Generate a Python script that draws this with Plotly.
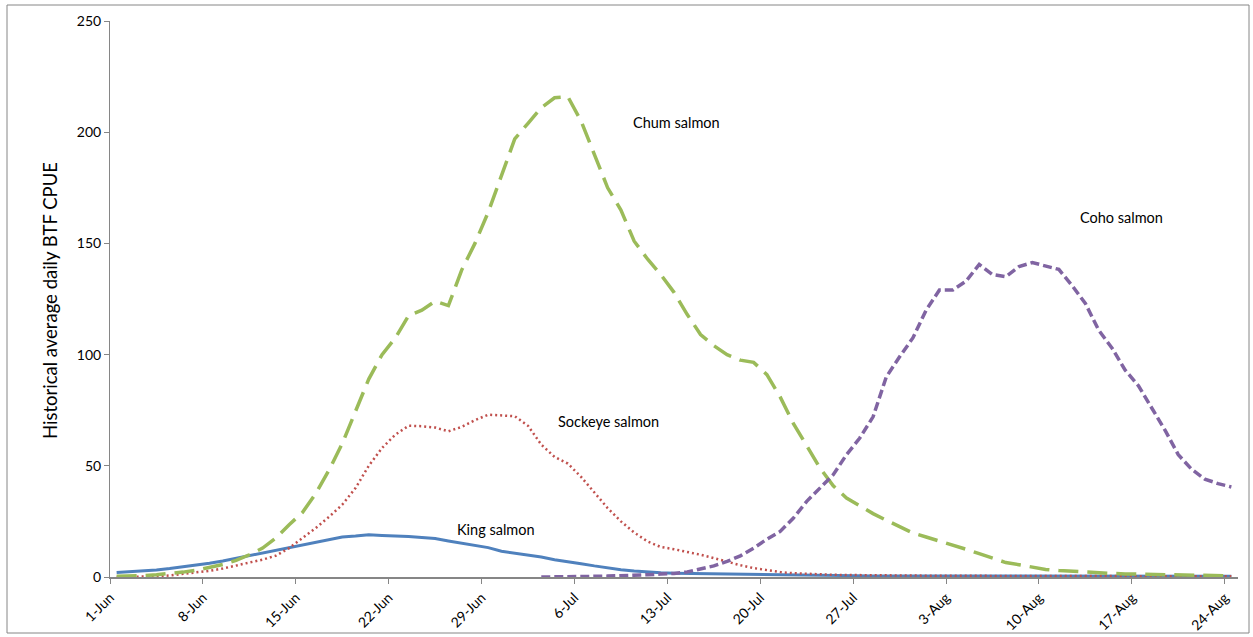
import plotly.graph_objects as go

# Day index 0 = 1-Jun ... 84 = 24-Aug
tick_labels = ["1-Jun", "8-Jun", "15-Jun", "22-Jun", "29-Jun", "6-Jul", "13-Jul",
               "20-Jul", "27-Jul", "3-Aug", "10-Aug", "17-Aug", "24-Aug"]
days = list(range(85))

king = [2.0, 2.3, 2.7, 3.2, 3.8, 4.5, 5.3, 6.2, 7.2, 8.4, 9.6, 10.8, 12.0, 13.3, 14.6,
        15.9, 17.0, 18.0, 18.4, 19.0, 18.7, 18.6, 18.2, 17.8, 17.3, 16.2, 15.2, 14.4, 13.2,
        11.6, 10.8, 10.0, 9.0, 7.8, 7.0, 6.0, 5.0, 4.1, 3.3, 2.7, 2.2, 1.9, 1.7, 1.6, 1.5,
        1.4, 1.3, 1.3, 1.2, 1.1, 1.0, 0.9, 0.8, 0.7, 0.6, 0.6, 0.5, 0.5, 0.5, 0.5, 0.5,
        0.5, 0.4, 0.4, 0.4, 0.4, 0.4, 0.4, 0.4, 0.4, 0.3, 0.3, 0.3, 0.3, 0.3, 0.3, 0.3,
        0.3, 0.3, 0.3, 0.3, 0.3, 0.3, 0.3, 0.3]

sockeye = [0.0, 0.0, 0.1, 0.3, 0.7, 1.3, 2.0, 2.8, 3.8, 5.0, 6.5, 7.8, 9.6, 13.0, 17.5,
           22.0, 27.0, 32.5, 40.0, 50.0, 58.0, 64.0, 68.0, 67.8, 67.2, 65.5, 67.5, 70.5,
           73.0, 72.7, 72.3, 68.0, 59.5, 54.0, 51.0, 45.0, 38.0, 31.0, 25.0, 20.0, 16.0,
           13.5, 12.5, 11.3, 10.0, 8.5, 6.8, 5.3, 4.0, 3.0, 2.2, 1.7, 1.4, 1.2, 1.0, 0.9,
           0.8, 0.8, 0.7, 0.7, 0.6, 0.6, 0.6, 0.5, 0.5, 0.5, 0.5, 0.5, 0.5, 0.4, 0.4, 0.4,
           0.4, 0.4, 0.4, 0.3, 0.3, 0.3, 0.3, 0.3, 0.3, 0.3, 0.3, 0.3, 0.3]

chum = [0.3, 0.4, 0.6, 1.0, 1.5, 2.2, 3.0, 4.2, 5.6, 7.5, 10.0, 13.0, 17.5, 23.5, 29.0,
        37.5, 48.0, 60.0, 75.0, 89.0, 100.0, 107.5, 117.5, 120.0, 124.0, 122.0, 138.0,
        150.0, 164.0, 181.0, 197.0, 204.0, 211.0, 215.5, 216.0, 205.0, 190.0, 175.0,
        165.0, 151.0, 143.0, 136.0, 128.0, 118.0, 109.0, 104.0, 100.0, 97.5, 96.5, 91.0,
        81.0, 69.0, 59.0, 49.0, 41.0, 35.5, 32.0, 28.5, 25.5, 22.5, 19.8, 18.0, 16.3,
        14.5, 12.5, 10.5, 8.5, 6.5, 5.5, 4.3, 3.4, 2.9, 2.5, 2.1, 1.8, 1.6, 1.4, 1.3,
        1.1, 1.0, 0.9, 0.8, 0.7, 0.6, 0.5]

coho = [None] * 32 + [0.0, 0.0, 0.1, 0.2, 0.3, 0.4, 0.5, 0.7, 1.0, 1.3, 1.6, 2.3, 3.5,
                      5.0, 7.0, 9.5, 13.0, 17.0, 20.5, 26.5, 34.0, 40.0, 46.0, 55.0, 62.5,
                      72.0, 90.0, 99.0, 107.5, 120.0, 129.0, 129.0, 133.0, 140.5, 136.0,
                      135.0, 139.6, 141.4, 140.0, 138.3, 131.0, 123.0, 111.0, 103.0, 93.0,
                      86.0, 76.0, 66.0, 55.0, 48.5, 44.0, 42.0, 40.5]

FONT = "Lato, Carlito, Calibri, sans-serif"

fig = go.Figure()
fig.add_trace(go.Scatter(x=days, y=king, mode="lines", name="King salmon",
                         line=dict(color="#4F81BD", width=3)))
fig.add_trace(go.Scatter(x=days, y=sockeye, mode="lines", name="Sockeye salmon",
                         line=dict(color="#C0504D", width=2.5, dash="2px,3px")))
fig.add_trace(go.Scatter(x=days, y=chum, mode="lines", name="Chum salmon",
                         line=dict(color="#9BBB59", width=3.5, dash="20px,9px")))
fig.add_trace(go.Scatter(x=days, y=coho, mode="lines", name="Coho salmon",
                         line=dict(color="#8064A2", width=3.5, dash="9px,4px")))

labels = [("Chum salmon", 42.2, 204.5), ("Coho salmon", 75.7, 161.7),
          ("Sockeye salmon", 37.1, 69.8), ("King salmon", 28.6, 21.2)]
for t, lx, ly in labels:
    fig.add_annotation(x=lx, y=ly, text=t, showarrow=False,
                       font=dict(family=FONT, size=14.5, color="#000000"))

W, H = 1253, 637
L, R, T, B = 110, 15, 21, 60
pw, ph = W - L - R, H - T - B

fig.add_annotation(xref="paper", yref="paper", x=(50 - L) / pw, y=(H - B - 301) / ph,
                   xanchor="center", yanchor="middle",
                   text="Historical average daily BTF CPUE", textangle=-90,
                   showarrow=False, font=dict(family=FONT, size=18.5, color="#000000"))

# outer chart border
fig.add_shape(type="rect", xref="paper", yref="paper",
              x0=(7 - L) / pw, x1=(1249 - L) / pw,
              y0=(H - B - 633) / ph, y1=(H - B - 5) / ph,
              line=dict(color="#868686", width=1), fillcolor="rgba(0,0,0,0)", layer="below")

fig.update_layout(
    width=W, height=H,
    margin=dict(l=L, r=R, t=T, b=B, autoexpand=False),
    paper_bgcolor="white", plot_bgcolor="white",
    showlegend=False,
    font=dict(family=FONT, size=14, color="#000000"),
)
fig.update_xaxes(range=[-0.5, 84.5], tickmode="array",
                 tickvals=[k * 7 - 0.5 for k in range(len(tick_labels))],
                 ticktext=tick_labels, tickangle=-45, automargin=False,
                 showgrid=False, zeroline=False,
                 showline=True, linecolor="#868686", linewidth=2,
                 ticks="outside", ticklen=5, tickcolor="#868686",
                 tickfont=dict(family=FONT, size=14, color="#000000"))
fig.update_yaxes(range=[0, 250], tickmode="array", tickvals=[0, 50, 100, 150, 200, 250],
                 automargin=False,
                 showgrid=False, zeroline=False,
                 showline=True, linecolor="#868686", linewidth=1,
                 ticks="outside", ticklen=5, tickcolor="#868686",
                 tickfont=dict(family=FONT, size=14, color="#000000"))

fig.write_html("out.html", config={"displayModeBar": False},
               post_script="document.body.style.margin='0px';document.body.style.padding='0px';")
